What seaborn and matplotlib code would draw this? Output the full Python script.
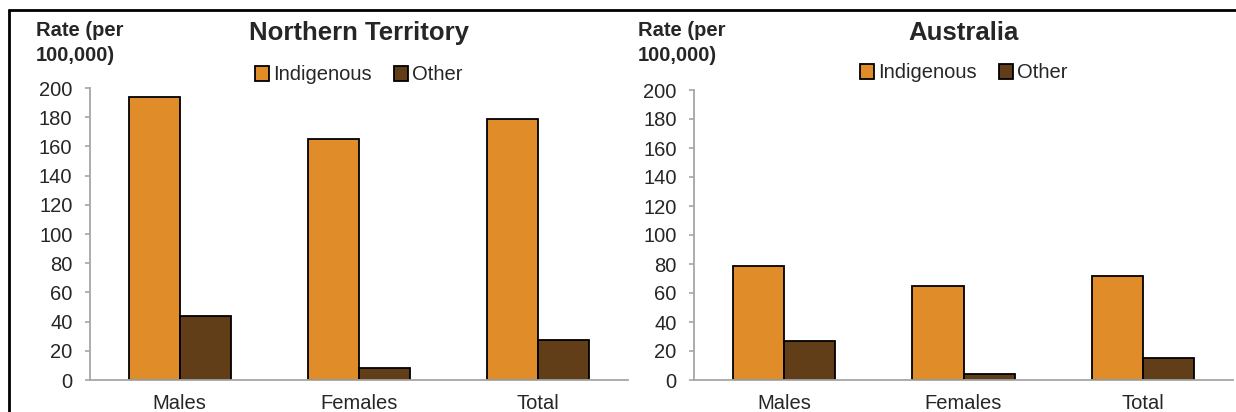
import pandas as pd
import seaborn as sns
import matplotlib.pyplot as plt
from matplotlib.lines import Line2D

# Values
categories = ["Males", "Females", "Total"]
groups = ["Indigenous", "Other"]
nt_indigenous = [194, 165, 179]
nt_other = [44, 8, 27.5]
aus_indigenous = [78.5, 65, 71.5]
aus_other = [27, 4, 15]
yticks = list(range(0, 201, 20))

colors = {"Indigenous": "#E08C28", "Other": "#623E18"}

def make_df(indig, other):
    rows = []
    for c, v in zip(categories, indig):
        rows.append({"Category": c, "Group": "Indigenous", "Rate": v})
    for c, v in zip(categories, other):
        rows.append({"Category": c, "Group": "Other", "Rate": v})
    return pd.DataFrame(rows)

sns.set_style("white")
plt.rcParams['font.family'] = ['Liberation Sans', 'DejaVu Sans']

fig = plt.figure(figsize=(12.36, 4.12), dpi=100)
W, H = 1236, 412
ax1 = fig.add_axes([90 / W, 32 / H, 538 / W, 292 / H])
ax2 = fig.add_axes([694 / W, 32 / H, 539 / W, 290 / H])

panels = [
    (ax1, make_df(nt_indigenous, nt_other), "Northern Territory", 36, 75),
    (ax2, make_df(aus_indigenous, aus_other), "Australia", 638, 73),
]

for ax, df, title, ylab_x, leg_y in panels:
    sns.barplot(data=df, x="Category", y="Rate", hue="Group", hue_order=groups,
                order=categories, palette=colors, width=0.57, edgecolor="black",
                linewidth=1.3, ax=ax, saturation=1, legend=True)
    ax.set_ylim(0, 200)
    ax.set_xlim(-0.5, 2.5)
    ax.set_yticks(yticks)
    ax.set_xlabel("")
    ax.set_ylabel("")
    for s in ["top", "right"]:
        ax.spines[s].set_visible(False)
    for s in ["left", "bottom"]:
        ax.spines[s].set_color("#A6A6A6")
        ax.spines[s].set_linewidth(1.3)
    ax.tick_params(axis="y", which="both", left=True, length=3.6, width=1.2,
                   color="#A6A6A6", labelsize=14.5, pad=9)
    ax.tick_params(axis="x", bottom=False, labelsize=14.5, pad=6.5)
    # title and legend placed in figure pixels so both panels line up
    bb = ax.get_position()
    cx = bb.x0 + bb.width / 2
    fig.text(cx, 1 - 33 / H, title, ha="center", va="center",
             fontsize=18.5, fontweight="bold")
    ax.legend(loc="center", bbox_to_anchor=(cx, 1 - leg_y / H),
              bbox_transform=fig.transFigure, ncol=2, frameon=False,
              fontsize=14.5, handlelength=0.7, handleheight=0.7,
              handletextpad=0.2, columnspacing=1.1, borderaxespad=0)
    fig.text(ylab_x / W, 1 - 21 / H, "Rate (per\n100,000)", ha="left", va="top",
             fontsize=14.5, fontweight="bold", linespacing=1.4)

# outer frame lines (top and left)
fig.add_artist(Line2D([9 / W, 1], [1 - 10 / H, 1 - 10 / H], color="black",
                      linewidth=2, transform=fig.transFigure))
fig.add_artist(Line2D([9 / W, 9 / W], [0, 1 - 10 / H], color="black",
                      linewidth=2, transform=fig.transFigure))

fig.savefig("out.png", dpi=100)
